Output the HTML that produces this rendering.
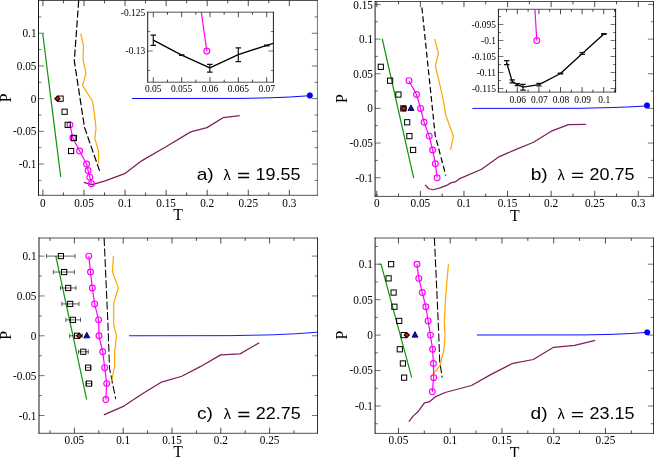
<!DOCTYPE html>
<html><head><meta charset="utf-8"><title>Phase diagrams</title>
<style>
html,body{margin:0;padding:0;background:#fff;}
body{width:654px;height:457px;overflow:hidden;font-family:"Liberation Serif",serif;}
svg{display:block;will-change:transform;}
text{fill:#000;}
</style></head><body>
<svg width="654" height="457" viewBox="0 0 654 457">
<rect width="654" height="457" fill="#fff"/>
<g id="pa">
<path d="M42.9 195.3v-5.6M42.9 0.5v5.6M83.97 195.3v-5.6M83.97 0.5v5.6M125.05 195.3v-5.6M125.05 0.5v5.6M166.13 195.3v-5.6M166.13 0.5v5.6M207.2 195.3v-5.6M207.2 0.5v5.6M248.28 195.3v-5.6M248.28 0.5v5.6M289.35 195.3v-5.6M289.35 0.5v5.6M63.44 195.3v-2.9M63.44 0.5v2.9M104.51 195.3v-2.9M104.51 0.5v2.9M145.59 195.3v-2.9M145.59 0.5v2.9M186.66 195.3v-2.9M186.66 0.5v2.9M227.74 195.3v-2.9M227.74 0.5v2.9M268.81 195.3v-2.9M268.81 0.5v2.9" stroke="#000" stroke-width="0.7" fill="none"/>
<path d="M38.5 164.05h5.6M317.4 164.05h-5.6M38.5 131.35h5.6M317.4 131.35h-5.6M38.5 98.65h5.6M317.4 98.65h-5.6M38.5 65.95h5.6M317.4 65.95h-5.6M38.5 33.25h5.6M317.4 33.25h-5.6M38.5 180.4h2.9M317.4 180.4h-2.9M38.5 147.7h2.9M317.4 147.7h-2.9M38.5 115h2.9M317.4 115h-2.9M38.5 82.3h2.9M317.4 82.3h-2.9M38.5 49.6h2.9M317.4 49.6h-2.9M38.5 16.9h2.9M317.4 16.9h-2.9" stroke="#000" stroke-width="0.55" fill="none"/>
<g transform="translate(0 0.35)">
<polyline points="42.7,32.9 60.7,176.5" fill="none" stroke="#0a960a" stroke-width="1.2" stroke-linejoin="round" />
<polyline points="78.7,0.3 74.3,60.5 84.5,127 99.6,170.5" fill="none" stroke="#000" stroke-width="1.2" stroke-dasharray="7.2 2.6" stroke-linejoin="round" />
<polyline points="80.7,33 83.5,45.3 83,59.1 86,73 82.5,85 92.4,100.6 94.6,114.4 96,128.2 94.8,138.1 98.5,150.8 98.8,163.5" fill="none" stroke="#ffa500" stroke-width="1.2" stroke-linejoin="round" />
<polyline points="132.1,98.15 242,98.05 270,97.45 290,96.65 309.8,95.35" fill="none" stroke="#0000ff" stroke-width="0.98" stroke-linejoin="round" />
<circle cx="309.85" cy="95.15" r="2.9" fill="#0000ff" stroke="#0000ff" stroke-width="0.2"/>
<polyline points="83.8,182.1 92.1,184.3 105.2,180.6 125.3,173 141.6,160.5 165.5,146.6 190.7,131.5 207,127.3 223.4,117.2 239.7,115.2" fill="none" stroke="#7d1f5a" stroke-width="1.25" stroke-linejoin="round" />
<polyline points="70,124.5 72.8,137.6 79.6,150.7 86.6,163.7 88.1,170.2 89.8,176.8 91.4,183.3" fill="none" stroke="#ff00ff" stroke-width="1.2" stroke-linejoin="round" />
<circle cx="70" cy="124.5" r="2.9" fill="none" stroke="#ff00ff" stroke-width="1.15"/>
<circle cx="72.8" cy="137.6" r="2.9" fill="none" stroke="#ff00ff" stroke-width="1.15"/>
<circle cx="79.6" cy="150.7" r="2.9" fill="none" stroke="#ff00ff" stroke-width="1.15"/>
<circle cx="86.6" cy="163.7" r="2.9" fill="none" stroke="#ff00ff" stroke-width="1.15"/>
<circle cx="88.1" cy="170.2" r="2.9" fill="none" stroke="#ff00ff" stroke-width="1.15"/>
<circle cx="89.8" cy="176.8" r="2.9" fill="none" stroke="#ff00ff" stroke-width="1.15"/>
<circle cx="91.4" cy="183.3" r="2.9" fill="none" stroke="#ff00ff" stroke-width="1.15"/>
<rect x="58" y="95.7" width="5.2" height="5.2" fill="none" stroke="#000" stroke-width="1.0"/>
<rect x="62" y="108.8" width="5.2" height="5.2" fill="none" stroke="#000" stroke-width="1.0"/>
<rect x="65.1" y="121.9" width="5.2" height="5.2" fill="none" stroke="#000" stroke-width="1.0"/>
<rect x="71.3" y="135" width="5.2" height="5.2" fill="none" stroke="#000" stroke-width="1.0"/>
<rect x="68.5" y="148.1" width="5.2" height="5.2" fill="none" stroke="#000" stroke-width="1.0"/>
<polygon points="54.8,98.3 57.4,95.7 60,98.3 57.4,100.9" fill="#ff0000" stroke="#000" stroke-width="1.1"/>
</g>
<path d="M38.5 0.16V195.64" stroke="#000" stroke-width="0.9" fill="none"/>
<path d="M317.4 0.16V195.64" stroke="#000" stroke-width="0.9" stroke-opacity="0.62" fill="none"/>
<path d="M38.05 0.5H317.85M38.05 195.3H317.85" stroke="#000" stroke-width="0.68" fill="none"/>
<text transform="translate(42.9 206.7) scale(0.93 1)" font-size="12.1" text-anchor="middle" font-family='"Liberation Serif", serif' >0</text>
<text transform="translate(83.97 206.7) scale(0.93 1)" font-size="12.1" text-anchor="middle" font-family='"Liberation Serif", serif' >0.05</text>
<text transform="translate(125.05 206.7) scale(0.93 1)" font-size="12.1" text-anchor="middle" font-family='"Liberation Serif", serif' >0.1</text>
<text transform="translate(166.13 206.7) scale(0.93 1)" font-size="12.1" text-anchor="middle" font-family='"Liberation Serif", serif' >0.15</text>
<text transform="translate(207.2 206.7) scale(0.93 1)" font-size="12.1" text-anchor="middle" font-family='"Liberation Serif", serif' >0.2</text>
<text transform="translate(248.28 206.7) scale(0.93 1)" font-size="12.1" text-anchor="middle" font-family='"Liberation Serif", serif' >0.25</text>
<text transform="translate(289.35 206.7) scale(0.93 1)" font-size="12.1" text-anchor="middle" font-family='"Liberation Serif", serif' >0.3</text>
<text transform="translate(36.5 167.95) scale(0.93 1)" font-size="12.1" text-anchor="end" font-family='"Liberation Serif", serif' >-0.1</text>
<text transform="translate(36.5 135.25) scale(0.93 1)" font-size="12.1" text-anchor="end" font-family='"Liberation Serif", serif' >-0.05</text>
<text transform="translate(36.5 102.55) scale(0.93 1)" font-size="12.1" text-anchor="end" font-family='"Liberation Serif", serif' >0</text>
<text transform="translate(36.5 69.85) scale(0.93 1)" font-size="12.1" text-anchor="end" font-family='"Liberation Serif", serif' >0.05</text>
<text transform="translate(36.5 37.15) scale(0.93 1)" font-size="12.1" text-anchor="end" font-family='"Liberation Serif", serif' >0.1</text>
<text x="178.2" y="219.5" font-size="15.8" text-anchor="middle" font-family='"Liberation Serif", serif' >T</text>
<text transform="translate(11.4 97.8) rotate(-90)" font-size="15.8" text-anchor="middle" font-family='"Liberation Serif", serif'>P</text>
<text transform="translate(196.7 180.3) scale(1.2 1)" font-size="16.0" text-anchor="start" font-family='"Liberation Sans", sans-serif' >a)</text>
<text transform="translate(223.6 180.3) scale(1.05 1)" font-size="13.8" text-anchor="start" font-family='"Liberation Sans", sans-serif' >&#955;</text>
<path d="M238.1 173.45h11M238.1 177.5h11" stroke="#000" stroke-width="1.35" fill="none"/>
<text transform="translate(255.6 180.3) scale(1.125 1)" font-size="16.0" text-anchor="start" font-family='"Liberation Sans", sans-serif' >19.55</text>
<rect x="147.7" y="12.2" width="125.7" height="70" fill="#fff"/>
<path d="M153.3 82.2v-5M153.3 12.2v5M181.65 82.2v-5M181.65 12.2v5M210 82.2v-5M210 12.2v5M238.35 82.2v-5M238.35 12.2v5M266.7 82.2v-5M266.7 12.2v5M167.47 82.2v-2.6M167.47 12.2v2.6M195.82 82.2v-2.6M195.82 12.2v2.6M224.18 82.2v-2.6M224.18 12.2v2.6M252.53 82.2v-2.6M252.53 12.2v2.6" stroke="#000" stroke-width="0.7" fill="none"/>
<path d="M147.7 51h5M273.4 51h-5M147.7 31.55h2.6M273.4 31.55h-2.6M147.7 70.45h2.6M273.4 70.45h-2.6" stroke="#000" stroke-width="0.55" fill="none"/>
<clipPath id="cia"><rect x="147.7" y="12.2" width="125.7" height="70"/></clipPath>
<g clip-path="url(#cia)">
<polyline points="153.3,40.2 181.7,55.1 209.8,67.9 238.3,54.6 266.7,45.3 275,42.8" fill="none" stroke="#000" stroke-width="1.3" stroke-linejoin="round" />
<path d="M153.3 35.2V45.3M150.55 35.2h5.5M150.55 45.3h5.5" stroke="#111" stroke-width="1.2" fill="none"/>
<path d="M181.7 54.8V55.4M178.95 54.8h5.5M178.95 55.4h5.5" stroke="#111" stroke-width="1.2" fill="none"/>
<path d="M209.8 64.4V72.2M207.05 64.4h5.5M207.05 72.2h5.5" stroke="#111" stroke-width="1.2" fill="none"/>
<path d="M238.3 47.8V61.6M235.55 47.8h5.5M235.55 61.6h5.5" stroke="#111" stroke-width="1.2" fill="none"/>
<path d="M266.7 45V45.8M263.95 45h5.5M263.95 45.8h5.5" stroke="#111" stroke-width="1.2" fill="none"/>
<polyline points="201.3,12.2 206.8,51.1" fill="none" stroke="#ff00ff" stroke-width="1.2" stroke-linejoin="round" />
<circle cx="206.8" cy="51.1" r="2.95" fill="none" stroke="#ff00ff" stroke-width="1.15"/>
</g>
<path d="M147.7 11.86V82.54" stroke="#000" stroke-width="0.9" fill="none"/>
<path d="M273.4 11.86V82.54" stroke="#000" stroke-width="0.9" stroke-opacity="1.0" fill="none"/>
<path d="M147.25 12.2H273.85M147.25 82.2H273.85" stroke="#000" stroke-width="0.68" fill="none"/>
<text transform="translate(153.3 92.3) scale(0.93 1)" font-size="10.2" text-anchor="middle" font-family='"Liberation Serif", serif' >0.05</text>
<text transform="translate(181.65 92.3) scale(0.93 1)" font-size="10.2" text-anchor="middle" font-family='"Liberation Serif", serif' >0.055</text>
<text transform="translate(210 92.3) scale(0.93 1)" font-size="10.2" text-anchor="middle" font-family='"Liberation Serif", serif' >0.06</text>
<text transform="translate(238.35 92.3) scale(0.93 1)" font-size="10.2" text-anchor="middle" font-family='"Liberation Serif", serif' >0.065</text>
<text transform="translate(266.7 92.3) scale(0.93 1)" font-size="10.2" text-anchor="middle" font-family='"Liberation Serif", serif' >0.07</text>
<text transform="translate(145.3 15.6) scale(0.93 1)" font-size="10.2" text-anchor="end" font-family='"Liberation Serif", serif' >-0.125</text>
<text transform="translate(145.3 54.3) scale(0.93 1)" font-size="10.2" text-anchor="end" font-family='"Liberation Serif", serif' >-0.13</text>
</g>
<g id="pb">
<path d="M376.8 196.4v-5.6M376.8 1.5v5.6M420.38 196.4v-5.6M420.38 1.5v5.6M463.97 196.4v-5.6M463.97 1.5v5.6M507.56 196.4v-5.6M507.56 1.5v5.6M551.14 196.4v-5.6M551.14 1.5v5.6M594.73 196.4v-5.6M594.73 1.5v5.6M638.31 196.4v-5.6M638.31 1.5v5.6M398.59 196.4v-2.9M398.59 1.5v2.9M442.18 196.4v-2.9M442.18 1.5v2.9M485.76 196.4v-2.9M485.76 1.5v2.9M529.35 196.4v-2.9M529.35 1.5v2.9M572.93 196.4v-2.9M572.93 1.5v2.9M616.52 196.4v-2.9M616.52 1.5v2.9" stroke="#000" stroke-width="0.7" fill="none"/>
<path d="M375.1 177.7h5.6M653.5 177.7h-5.6M375.1 143.05h5.6M653.5 143.05h-5.6M375.1 108.4h5.6M653.5 108.4h-5.6M375.1 73.75h5.6M653.5 73.75h-5.6M375.1 39.1h5.6M653.5 39.1h-5.6M375.1 4.45h5.6M653.5 4.45h-5.6M375.1 195.03h2.9M653.5 195.03h-2.9M375.1 160.38h2.9M653.5 160.38h-2.9M375.1 125.72h2.9M653.5 125.72h-2.9M375.1 91.07h2.9M653.5 91.07h-2.9M375.1 56.42h2.9M653.5 56.42h-2.9M375.1 21.78h2.9M653.5 21.78h-2.9" stroke="#000" stroke-width="0.55" fill="none"/>
<polyline points="382.3,39 413.7,178.2" fill="none" stroke="#0a960a" stroke-width="1.2" stroke-linejoin="round" />
<polyline points="421.9,7.46 435.2,135.42 445.8,175.59" fill="none" stroke="#000" stroke-width="1.2" stroke-dasharray="5.9 3.0" stroke-linejoin="round" />
<polyline points="434.6,39 438.4,52.86 435.4,66.02 438.9,80.68 442.7,97.05 445.2,111.01 445.5,114.43 453.4,136.22 450.6,149.88" fill="none" stroke="#ffa500" stroke-width="1.2" stroke-linejoin="round" />
<polyline points="472.3,108.4 580,108.3 610,107.6 630,106.89 647.3,105.89" fill="none" stroke="#0000ff" stroke-width="0.95" stroke-linejoin="round" />
<circle cx="647" cy="105.5" r="2.9" fill="#0000ff" stroke="#0000ff" stroke-width="0.2"/>
<polyline points="425.1,184.93 428.8,188.75 433.1,189.75 440.2,187.94 446.4,185.43 451.5,182.62 455.2,181.92 459.8,178.6 481.6,169.26 499.3,156.61 515.6,149.58 533.5,142.25 551.3,131.2 568.5,124.67 585.9,124.27" fill="none" stroke="#7d1f5a" stroke-width="1.25" stroke-linejoin="round" />
<rect x="378.2" y="64.22" width="5.2" height="5.2" fill="none" stroke="#000" stroke-width="1.0"/>
<rect x="387.5" y="78.08" width="5.2" height="5.2" fill="none" stroke="#000" stroke-width="1.0"/>
<rect x="395.8" y="91.94" width="5.2" height="5.2" fill="none" stroke="#000" stroke-width="1.0"/>
<rect x="400.7" y="105.8" width="5.2" height="5.2" fill="none" stroke="#000" stroke-width="1.0"/>
<rect x="404.6" y="119.66" width="5.2" height="5.2" fill="none" stroke="#000" stroke-width="1.0"/>
<rect x="406.8" y="133.52" width="5.2" height="5.2" fill="none" stroke="#000" stroke-width="1.0"/>
<rect x="410.5" y="147.38" width="5.2" height="5.2" fill="none" stroke="#000" stroke-width="1.0"/>
<polyline points="409,80.68 416.5,94.54 420.6,108.4 424.1,122.26 429.2,136.12 432.6,149.98 435.4,163.84 437.1,177.7" fill="none" stroke="#ff00ff" stroke-width="1.2" stroke-linejoin="round" />
<circle cx="409" cy="80.68" r="2.9" fill="none" stroke="#ff00ff" stroke-width="1.15"/>
<circle cx="416.5" cy="94.54" r="2.9" fill="none" stroke="#ff00ff" stroke-width="1.15"/>
<circle cx="420.6" cy="108.4" r="2.9" fill="none" stroke="#ff00ff" stroke-width="1.15"/>
<circle cx="424.1" cy="122.26" r="2.9" fill="none" stroke="#ff00ff" stroke-width="1.15"/>
<circle cx="429.2" cy="136.12" r="2.9" fill="none" stroke="#ff00ff" stroke-width="1.15"/>
<circle cx="432.6" cy="149.98" r="2.9" fill="none" stroke="#ff00ff" stroke-width="1.15"/>
<circle cx="435.4" cy="163.84" r="2.9" fill="none" stroke="#ff00ff" stroke-width="1.15"/>
<circle cx="437.1" cy="177.7" r="2.9" fill="none" stroke="#ff00ff" stroke-width="1.15"/>
<circle cx="404" cy="108.4" r="2.3" fill="#ff0000" stroke="#000" stroke-width="1.1"/>
<polygon points="408,110.44 414,110.44 411,104.89" fill="#0000ff" stroke="#000" stroke-width="0.8"/>
<path d="M375.1 1.16V196.74" stroke="#000" stroke-width="0.9" fill="none"/>
<path d="M653.5 1.16V196.74" stroke="#000" stroke-width="0.9" stroke-opacity="0.85" fill="none"/>
<path d="M374.65 1.5H653.95M374.65 196.4H653.95" stroke="#000" stroke-width="0.68" fill="none"/>
<text transform="translate(376.8 207) scale(0.93 1)" font-size="12.1" text-anchor="middle" font-family='"Liberation Serif", serif' >0</text>
<text transform="translate(420.38 207) scale(0.93 1)" font-size="12.1" text-anchor="middle" font-family='"Liberation Serif", serif' >0.05</text>
<text transform="translate(463.97 207) scale(0.93 1)" font-size="12.1" text-anchor="middle" font-family='"Liberation Serif", serif' >0.1</text>
<text transform="translate(507.56 207) scale(0.93 1)" font-size="12.1" text-anchor="middle" font-family='"Liberation Serif", serif' >0.15</text>
<text transform="translate(551.14 207) scale(0.93 1)" font-size="12.1" text-anchor="middle" font-family='"Liberation Serif", serif' >0.2</text>
<text transform="translate(594.73 207) scale(0.93 1)" font-size="12.1" text-anchor="middle" font-family='"Liberation Serif", serif' >0.25</text>
<text transform="translate(638.31 207) scale(0.93 1)" font-size="12.1" text-anchor="middle" font-family='"Liberation Serif", serif' >0.3</text>
<text transform="translate(373 181.75) scale(0.93 1)" font-size="12.1" text-anchor="end" font-family='"Liberation Serif", serif' >-0.1</text>
<text transform="translate(373 147.1) scale(0.93 1)" font-size="12.1" text-anchor="end" font-family='"Liberation Serif", serif' >-0.05</text>
<text transform="translate(373 112.45) scale(0.93 1)" font-size="12.1" text-anchor="end" font-family='"Liberation Serif", serif' >0</text>
<text transform="translate(373 77.8) scale(0.93 1)" font-size="12.1" text-anchor="end" font-family='"Liberation Serif", serif' >0.05</text>
<text transform="translate(373 43.15) scale(0.93 1)" font-size="12.1" text-anchor="end" font-family='"Liberation Serif", serif' >0.1</text>
<text transform="translate(373 8.5) scale(0.93 1)" font-size="12.1" text-anchor="end" font-family='"Liberation Serif", serif' >0.15</text>
<text x="514.9" y="220.6" font-size="15.8" text-anchor="middle" font-family='"Liberation Serif", serif' >T</text>
<text transform="translate(347.0 98.65) rotate(-90)" font-size="15.8" text-anchor="middle" font-family='"Liberation Serif", serif'>P</text>
<text transform="translate(530.7 180.2) scale(1.2 1)" font-size="16.0" text-anchor="start" font-family='"Liberation Sans", sans-serif' >b)</text>
<text transform="translate(557.6 180.2) scale(1.05 1)" font-size="13.8" text-anchor="start" font-family='"Liberation Sans", sans-serif' >&#955;</text>
<path d="M572.1 173.35h11M572.1 177.4h11" stroke="#000" stroke-width="1.35" fill="none"/>
<text transform="translate(589.6 180.2) scale(1.125 1)" font-size="16.0" text-anchor="start" font-family='"Liberation Sans", sans-serif' >20.75</text>
<rect x="498.4" y="9.3" width="117.2" height="82.8" fill="#fff"/>
<path d="M517.3 92.1v-5M517.3 9.3v5M538.9 92.1v-5M538.9 9.3v5M560.5 92.1v-5M560.5 9.3v5M582.1 92.1v-5M582.1 9.3v5M603.7 92.1v-5M603.7 9.3v5M506.5 92.1v-2.6M506.5 9.3v2.6M528.1 92.1v-2.6M528.1 9.3v2.6M549.7 92.1v-2.6M549.7 9.3v2.6M571.3 92.1v-2.6M571.3 9.3v2.6M592.9 92.1v-2.6M592.9 9.3v2.6M614.5 92.1v-2.6M614.5 9.3v2.6" stroke="#000" stroke-width="0.7" fill="none"/>
<path d="M498.4 24.5h5M615.6 24.5h-5M498.4 40.5h5M615.6 40.5h-5M498.4 56.5h5M615.6 56.5h-5M498.4 72.5h5M615.6 72.5h-5M498.4 88.5h5M615.6 88.5h-5M498.4 16.5h2.6M615.6 16.5h-2.6M498.4 32.5h2.6M615.6 32.5h-2.6M498.4 48.5h2.6M615.6 48.5h-2.6M498.4 64.5h2.6M615.6 64.5h-2.6M498.4 80.5h2.6M615.6 80.5h-2.6" stroke="#000" stroke-width="0.55" fill="none"/>
<clipPath id="cib"><rect x="498.4" y="9.3" width="117.2" height="82.8"/></clipPath>
<g clip-path="url(#cib)">
<polyline points="506.7,62.7 512.2,81.4 517.5,84.7 523,87.2 539.1,84.7 560.5,73.5 582.3,53.4 603.9,34.1" fill="none" stroke="#000" stroke-width="1.3" stroke-linejoin="round" />
<path d="M506.7 60.7V64.7M503.95 60.7h5.5M503.95 64.7h5.5" stroke="#111" stroke-width="1.2" fill="none"/>
<path d="M512.2 79.9V82.9M509.45 79.9h5.5M509.45 82.9h5.5" stroke="#111" stroke-width="1.2" fill="none"/>
<path d="M517.5 83.7V85.7M514.75 83.7h5.5M514.75 85.7h5.5" stroke="#111" stroke-width="1.2" fill="none"/>
<path d="M523 84.3V90.1M520.25 84.3h5.5M520.25 90.1h5.5" stroke="#111" stroke-width="1.2" fill="none"/>
<path d="M539.1 83.4V86M536.35 83.4h5.5M536.35 86h5.5" stroke="#111" stroke-width="1.2" fill="none"/>
<path d="M560.5 73.1V73.9M557.75 73.1h5.5M557.75 73.9h5.5" stroke="#111" stroke-width="1.2" fill="none"/>
<path d="M582.3 52.5V54.3M579.55 52.5h5.5M579.55 54.3h5.5" stroke="#111" stroke-width="1.2" fill="none"/>
<path d="M603.9 33.7V34.5M601.15 33.7h5.5M601.15 34.5h5.5" stroke="#111" stroke-width="1.2" fill="none"/>
<polyline points="534.9,9.3 536.8,40.5" fill="none" stroke="#ff00ff" stroke-width="1.2" stroke-linejoin="round" />
<circle cx="536.8" cy="40.5" r="2.95" fill="none" stroke="#ff00ff" stroke-width="1.15"/>
</g>
<path d="M498.4 8.96V92.44" stroke="#000" stroke-width="0.9" fill="none"/>
<path d="M615.6 8.96V92.44" stroke="#000" stroke-width="0.9" stroke-opacity="1.0" fill="none"/>
<path d="M497.95 9.3H616.05M497.95 92.1H616.05" stroke="#000" stroke-width="0.68" fill="none"/>
<text transform="translate(517.8 102.9) scale(0.93 1)" font-size="10.2" text-anchor="middle" font-family='"Liberation Serif", serif' >0.06</text>
<text transform="translate(539.4 102.9) scale(0.93 1)" font-size="10.2" text-anchor="middle" font-family='"Liberation Serif", serif' >0.07</text>
<text transform="translate(561 102.9) scale(0.93 1)" font-size="10.2" text-anchor="middle" font-family='"Liberation Serif", serif' >0.08</text>
<text transform="translate(582.6 102.9) scale(0.93 1)" font-size="10.2" text-anchor="middle" font-family='"Liberation Serif", serif' >0.09</text>
<text transform="translate(604.2 102.9) scale(0.93 1)" font-size="10.2" text-anchor="middle" font-family='"Liberation Serif", serif' >0.1</text>
<text transform="translate(496 28) scale(0.93 1)" font-size="10.2" text-anchor="end" font-family='"Liberation Serif", serif' >-0.095</text>
<text transform="translate(496 44) scale(0.93 1)" font-size="10.2" text-anchor="end" font-family='"Liberation Serif", serif' >-0.1</text>
<text transform="translate(496 60) scale(0.93 1)" font-size="10.2" text-anchor="end" font-family='"Liberation Serif", serif' >-0.105</text>
<text transform="translate(496 76) scale(0.93 1)" font-size="10.2" text-anchor="end" font-family='"Liberation Serif", serif' >-0.11</text>
<text transform="translate(496 92) scale(0.93 1)" font-size="10.2" text-anchor="end" font-family='"Liberation Serif", serif' >-0.115</text>
</g>
<g id="pc">
<path d="M74.4 433.3v-5.6M74.4 238v5.6M123.2 433.3v-5.6M123.2 238v5.6M172 433.3v-5.6M172 238v5.6M220.8 433.3v-5.6M220.8 238v5.6M269.6 433.3v-5.6M269.6 238v5.6M50 433.3v-2.9M50 238v2.9M98.8 433.3v-2.9M98.8 238v2.9M147.6 433.3v-2.9M147.6 238v2.9M196.4 433.3v-2.9M196.4 238v2.9M245.2 433.3v-2.9M245.2 238v2.9M294 433.3v-2.9M294 238v2.9" stroke="#000" stroke-width="0.7" fill="none"/>
<path d="M39 415.5h5.6M317.5 415.5h-5.6M39 375.65h5.6M317.5 375.65h-5.6M39 335.8h5.6M317.5 335.8h-5.6M39 295.95h5.6M317.5 295.95h-5.6M39 256.1h5.6M317.5 256.1h-5.6M39 395.57h2.9M317.5 395.57h-2.9M39 355.73h2.9M317.5 355.73h-2.9M39 315.88h2.9M317.5 315.88h-2.9M39 276.02h2.9M317.5 276.02h-2.9" stroke="#000" stroke-width="0.55" fill="none"/>
<polyline points="55.8,256.1 86.7,399.54" fill="none" stroke="#0a960a" stroke-width="1.2" stroke-linejoin="round" />
<polyline points="104.1,237.93 108.1,328.17 109.5,368.32 115.7,399.04" fill="none" stroke="#000" stroke-width="1.05" stroke-dasharray="8 2.6" stroke-linejoin="round" />
<polyline points="113.5,256.1 112.4,271.56 118.3,287.92 113.7,303.58 113.7,324.96 116.4,335.4 114.6,353.06 114.6,366.31 111.3,383.38" fill="none" stroke="#ffa500" stroke-width="1.2" stroke-linejoin="round" />
<polyline points="129,335.75 230,335.65 270,334.9 295,333.8 317.4,332.2" fill="none" stroke="#0000ff" stroke-width="0.9" stroke-linejoin="round" />
<polyline points="103.8,414.9 123.9,406.06 142.8,393.42 161.6,382.07 181.8,376.25 200.7,366.42 220.6,354.87 240.1,353.87 259.3,342.73" fill="none" stroke="#7d1f5a" stroke-width="1.25" stroke-linejoin="round" />
<rect x="58.3" y="253.5" width="5.2" height="5.2" fill="none" stroke="#000" stroke-width="1.0"/>
<rect x="61.5" y="269.44" width="5.2" height="5.2" fill="none" stroke="#000" stroke-width="1.0"/>
<rect x="65.6" y="285.38" width="5.2" height="5.2" fill="none" stroke="#000" stroke-width="1.0"/>
<rect x="67.6" y="301.32" width="5.2" height="5.2" fill="none" stroke="#000" stroke-width="1.0"/>
<rect x="70.3" y="317.26" width="5.2" height="5.2" fill="none" stroke="#000" stroke-width="1.0"/>
<rect x="74.5" y="333.2" width="5.2" height="5.2" fill="none" stroke="#000" stroke-width="1.0"/>
<rect x="80.7" y="349.14" width="5.2" height="5.2" fill="none" stroke="#000" stroke-width="1.0"/>
<rect x="85.5" y="365.08" width="5.2" height="5.2" fill="none" stroke="#000" stroke-width="1.0"/>
<rect x="86.3" y="381.02" width="5.2" height="5.2" fill="none" stroke="#000" stroke-width="1.0"/>
<path d="M46.5 256.1H75M46.5 253.85v4.5M75 253.85v4.5" stroke="#000" stroke-width="0.62" fill="none"/>
<path d="M53.3 272.04H74.4M53.3 269.79v4.5M74.4 269.79v4.5" stroke="#000" stroke-width="0.62" fill="none"/>
<path d="M60.4 287.98H76M60.4 285.73v4.5M76 285.73v4.5" stroke="#000" stroke-width="0.62" fill="none"/>
<path d="M61.9 303.92H79M61.9 301.67v4.5M79 301.67v4.5" stroke="#000" stroke-width="0.62" fill="none"/>
<path d="M65.9 319.86H80.5M65.9 317.61v4.5M80.5 317.61v4.5" stroke="#000" stroke-width="0.62" fill="none"/>
<path d="M69.7 335.8H82.3M69.7 333.55v4.5M82.3 333.55v4.5" stroke="#000" stroke-width="0.62" fill="none"/>
<path d="M78.5 351.74H88.3M78.5 349.49v4.5M88.3 349.49v4.5" stroke="#000" stroke-width="0.62" fill="none"/>
<path d="M85.5 367.68H90.9M85.5 365.43v4.5M90.9 365.43v4.5" stroke="#000" stroke-width="0.62" fill="none"/>
<path d="M85.8 383.62H92M85.8 381.37v4.5M92 381.37v4.5" stroke="#000" stroke-width="0.62" fill="none"/>
<polyline points="88.8,256.1 90.5,272.04 92.3,287.98 94.6,303.92 98.6,319.86 99,335.8 102.7,351.74 104.7,367.68 106.7,383.62 105.8,399.56" fill="none" stroke="#ff00ff" stroke-width="1.2" stroke-linejoin="round" />
<circle cx="88.8" cy="256.1" r="2.9" fill="none" stroke="#ff00ff" stroke-width="1.15"/>
<circle cx="90.5" cy="272.04" r="2.9" fill="none" stroke="#ff00ff" stroke-width="1.15"/>
<circle cx="92.3" cy="287.98" r="2.9" fill="none" stroke="#ff00ff" stroke-width="1.15"/>
<circle cx="94.6" cy="303.92" r="2.9" fill="none" stroke="#ff00ff" stroke-width="1.15"/>
<circle cx="98.6" cy="319.86" r="2.9" fill="none" stroke="#ff00ff" stroke-width="1.15"/>
<circle cx="99" cy="335.8" r="2.9" fill="none" stroke="#ff00ff" stroke-width="1.15"/>
<circle cx="102.7" cy="351.74" r="2.9" fill="none" stroke="#ff00ff" stroke-width="1.15"/>
<circle cx="104.7" cy="367.68" r="2.9" fill="none" stroke="#ff00ff" stroke-width="1.15"/>
<circle cx="106.7" cy="383.62" r="2.9" fill="none" stroke="#ff00ff" stroke-width="1.15"/>
<circle cx="105.8" cy="399.56" r="2.9" fill="none" stroke="#ff00ff" stroke-width="1.15"/>
<polygon points="76.6,335.8 79.2,333.2 81.8,335.8 79.2,338.4" fill="#ff0000" stroke="#000" stroke-width="1.1"/>
<polygon points="83.8,337.84 89.8,337.84 86.8,332.29" fill="#0000ff" stroke="#000" stroke-width="0.8"/>
<path d="M39 237.66V433.64" stroke="#000" stroke-width="0.9" fill="none"/>
<path d="M317.5 237.66V433.64" stroke="#000" stroke-width="0.9" stroke-opacity="0.9" fill="none"/>
<path d="M38.55 238H317.95M38.55 433.3H317.95" stroke="#000" stroke-width="0.68" fill="none"/>
<text transform="translate(74.4 444) scale(0.93 1)" font-size="12.1" text-anchor="middle" font-family='"Liberation Serif", serif' >0.05</text>
<text transform="translate(123.2 444) scale(0.93 1)" font-size="12.1" text-anchor="middle" font-family='"Liberation Serif", serif' >0.1</text>
<text transform="translate(172 444) scale(0.93 1)" font-size="12.1" text-anchor="middle" font-family='"Liberation Serif", serif' >0.15</text>
<text transform="translate(220.8 444) scale(0.93 1)" font-size="12.1" text-anchor="middle" font-family='"Liberation Serif", serif' >0.2</text>
<text transform="translate(269.6 444) scale(0.93 1)" font-size="12.1" text-anchor="middle" font-family='"Liberation Serif", serif' >0.25</text>
<text transform="translate(36.5 419.5) scale(0.93 1)" font-size="12.1" text-anchor="end" font-family='"Liberation Serif", serif' >-0.1</text>
<text transform="translate(36.5 379.65) scale(0.93 1)" font-size="12.1" text-anchor="end" font-family='"Liberation Serif", serif' >-0.05</text>
<text transform="translate(36.5 339.8) scale(0.93 1)" font-size="12.1" text-anchor="end" font-family='"Liberation Serif", serif' >0</text>
<text transform="translate(36.5 299.95) scale(0.93 1)" font-size="12.1" text-anchor="end" font-family='"Liberation Serif", serif' >0.05</text>
<text transform="translate(36.5 260.1) scale(0.93 1)" font-size="12.1" text-anchor="end" font-family='"Liberation Serif", serif' >0.1</text>
<text x="178" y="457.3" font-size="15.8" text-anchor="middle" font-family='"Liberation Serif", serif' >T</text>
<text transform="translate(11.4 335.3) rotate(-90)" font-size="15.8" text-anchor="middle" font-family='"Liberation Serif", serif'>P</text>
<text transform="translate(196.9 419.3) scale(1.2 1)" font-size="16.0" text-anchor="start" font-family='"Liberation Sans", sans-serif' >c)</text>
<text transform="translate(223.8 419.3) scale(1.05 1)" font-size="13.8" text-anchor="start" font-family='"Liberation Sans", sans-serif' >&#955;</text>
<path d="M238.3 412.45h11M238.3 416.5h11" stroke="#000" stroke-width="1.35" fill="none"/>
<text transform="translate(255.8 419.3) scale(1.125 1)" font-size="16.0" text-anchor="start" font-family='"Liberation Sans", sans-serif' >22.75</text>
</g>
<g id="pd">
<path d="M398.45 433.4v-5.6M398.45 238v5.6M450.2 433.4v-5.6M450.2 238v5.6M501.95 433.4v-5.6M501.95 238v5.6M553.7 433.4v-5.6M553.7 238v5.6M605.45 433.4v-5.6M605.45 238v5.6M424.32 433.4v-2.9M424.32 238v2.9M476.07 433.4v-2.9M476.07 238v2.9M527.83 433.4v-2.9M527.83 238v2.9M579.58 433.4v-2.9M579.58 238v2.9M631.33 433.4v-2.9M631.33 238v2.9" stroke="#000" stroke-width="0.7" fill="none"/>
<path d="M375.1 406h5.6M653.5 406h-5.6M375.1 370.55h5.6M653.5 370.55h-5.6M375.1 335.1h5.6M653.5 335.1h-5.6M375.1 299.65h5.6M653.5 299.65h-5.6M375.1 264.2h5.6M653.5 264.2h-5.6M375.1 423.73h2.9M653.5 423.73h-2.9M375.1 388.28h2.9M653.5 388.28h-2.9M375.1 352.83h2.9M653.5 352.83h-2.9M375.1 317.38h2.9M653.5 317.38h-2.9M375.1 281.93h2.9M653.5 281.93h-2.9M375.1 246.48h2.9M653.5 246.48h-2.9" stroke="#000" stroke-width="0.55" fill="none"/>
<polyline points="378.6,264.2 381.1,264.4 411.7,377.4" fill="none" stroke="#0a960a" stroke-width="1.2" stroke-linejoin="round" />
<polyline points="434.4,238.1 438.5,328 439.7,361 442.2,377.6" fill="none" stroke="#000" stroke-width="1.05" stroke-dasharray="8 2.6" stroke-linejoin="round" />
<polyline points="448.5,264.2 447.2,278.3 445.2,303.5 444.3,322 445.1,335.2 443.8,350.2 440.1,365.3 431.3,376.6" fill="none" stroke="#ffa500" stroke-width="1.2" stroke-linejoin="round" />
<polyline points="477,335 585,334.9 610,334.4 630,333.6 647.3,332.3" fill="none" stroke="#0000ff" stroke-width="0.95" stroke-linejoin="round" />
<circle cx="647.2" cy="332.3" r="2.9" fill="#0000ff" stroke="#0000ff" stroke-width="0.2"/>
<polyline points="408.9,421.7 413.1,416.1 417.9,411.8 424.4,402.8 429.2,401.9 435.2,396.9 445.1,392.5 471.5,385.5 491.6,374.1 513,363.3 533.3,359.5 553.6,347.3 574.7,345.3 595.2,340.4" fill="none" stroke="#7d1f5a" stroke-width="1.25" stroke-linejoin="round" />
<rect x="388.5" y="261.6" width="5.2" height="5.2" fill="none" stroke="#000" stroke-width="1.0"/>
<rect x="386" y="275.78" width="5.2" height="5.2" fill="none" stroke="#000" stroke-width="1.0"/>
<rect x="391" y="289.96" width="5.2" height="5.2" fill="none" stroke="#000" stroke-width="1.0"/>
<rect x="391.8" y="304.14" width="5.2" height="5.2" fill="none" stroke="#000" stroke-width="1.0"/>
<rect x="396.6" y="318.32" width="5.2" height="5.2" fill="none" stroke="#000" stroke-width="1.0"/>
<rect x="401.1" y="332.5" width="5.2" height="5.2" fill="none" stroke="#000" stroke-width="1.0"/>
<rect x="397.2" y="346.68" width="5.2" height="5.2" fill="none" stroke="#000" stroke-width="1.0"/>
<rect x="400.3" y="360.86" width="5.2" height="5.2" fill="none" stroke="#000" stroke-width="1.0"/>
<rect x="401.5" y="375.04" width="5.2" height="5.2" fill="none" stroke="#000" stroke-width="1.0"/>
<polyline points="417,264.2 418.8,278.38 422.3,292.56 425.8,306.74 428.1,320.92 430.4,335.1 432.6,349.28 433.4,363.46 433.7,377.64 432.3,391.82" fill="none" stroke="#ff00ff" stroke-width="1.2" stroke-linejoin="round" />
<circle cx="417" cy="264.2" r="2.9" fill="none" stroke="#ff00ff" stroke-width="1.15"/>
<circle cx="418.8" cy="278.38" r="2.9" fill="none" stroke="#ff00ff" stroke-width="1.15"/>
<circle cx="422.3" cy="292.56" r="2.9" fill="none" stroke="#ff00ff" stroke-width="1.15"/>
<circle cx="425.8" cy="306.74" r="2.9" fill="none" stroke="#ff00ff" stroke-width="1.15"/>
<circle cx="428.1" cy="320.92" r="2.9" fill="none" stroke="#ff00ff" stroke-width="1.15"/>
<circle cx="430.4" cy="335.1" r="2.9" fill="none" stroke="#ff00ff" stroke-width="1.15"/>
<circle cx="432.6" cy="349.28" r="2.9" fill="none" stroke="#ff00ff" stroke-width="1.15"/>
<circle cx="433.4" cy="363.46" r="2.9" fill="none" stroke="#ff00ff" stroke-width="1.15"/>
<circle cx="433.7" cy="377.64" r="2.9" fill="none" stroke="#ff00ff" stroke-width="1.15"/>
<circle cx="432.3" cy="391.82" r="2.9" fill="none" stroke="#ff00ff" stroke-width="1.15"/>
<polygon points="404.1,335.1 406.7,332.5 409.3,335.1 406.7,337.7" fill="#ff0000" stroke="#000" stroke-width="1.1"/>
<polygon points="412,337.14 418,337.14 415,331.59" fill="#0000ff" stroke="#000" stroke-width="0.8"/>
<path d="M375.1 237.66V433.74" stroke="#000" stroke-width="0.9" fill="none"/>
<path d="M653.5 237.66V433.74" stroke="#000" stroke-width="0.9" stroke-opacity="0.85" fill="none"/>
<path d="M374.65 238H653.95M374.65 433.4H653.95" stroke="#000" stroke-width="0.68" fill="none"/>
<text transform="translate(398.45 444) scale(0.93 1)" font-size="12.1" text-anchor="middle" font-family='"Liberation Serif", serif' >0.05</text>
<text transform="translate(450.2 444) scale(0.93 1)" font-size="12.1" text-anchor="middle" font-family='"Liberation Serif", serif' >0.1</text>
<text transform="translate(501.95 444) scale(0.93 1)" font-size="12.1" text-anchor="middle" font-family='"Liberation Serif", serif' >0.15</text>
<text transform="translate(553.7 444) scale(0.93 1)" font-size="12.1" text-anchor="middle" font-family='"Liberation Serif", serif' >0.2</text>
<text transform="translate(605.45 444) scale(0.93 1)" font-size="12.1" text-anchor="middle" font-family='"Liberation Serif", serif' >0.25</text>
<text transform="translate(372.9 409.9) scale(0.93 1)" font-size="12.1" text-anchor="end" font-family='"Liberation Serif", serif' >-0.1</text>
<text transform="translate(372.9 374.45) scale(0.93 1)" font-size="12.1" text-anchor="end" font-family='"Liberation Serif", serif' >-0.05</text>
<text transform="translate(372.9 339) scale(0.93 1)" font-size="12.1" text-anchor="end" font-family='"Liberation Serif", serif' >0</text>
<text transform="translate(372.9 303.55) scale(0.93 1)" font-size="12.1" text-anchor="end" font-family='"Liberation Serif", serif' >0.05</text>
<text transform="translate(372.9 268.1) scale(0.93 1)" font-size="12.1" text-anchor="end" font-family='"Liberation Serif", serif' >0.1</text>
<text x="514.7" y="457.5" font-size="15.8" text-anchor="middle" font-family='"Liberation Serif", serif' >T</text>
<text transform="translate(346.9 335.1) rotate(-90)" font-size="15.8" text-anchor="middle" font-family='"Liberation Serif", serif'>P</text>
<text transform="translate(530.5 419.4) scale(1.2 1)" font-size="16.0" text-anchor="start" font-family='"Liberation Sans", sans-serif' >d)</text>
<text transform="translate(557.4 419.4) scale(1.05 1)" font-size="13.8" text-anchor="start" font-family='"Liberation Sans", sans-serif' >&#955;</text>
<path d="M571.9 412.55h11M571.9 416.6h11" stroke="#000" stroke-width="1.35" fill="none"/>
<text transform="translate(589.4 419.4) scale(1.125 1)" font-size="16.0" text-anchor="start" font-family='"Liberation Sans", sans-serif' >23.15</text>
</g>
</svg>
</body></html>
